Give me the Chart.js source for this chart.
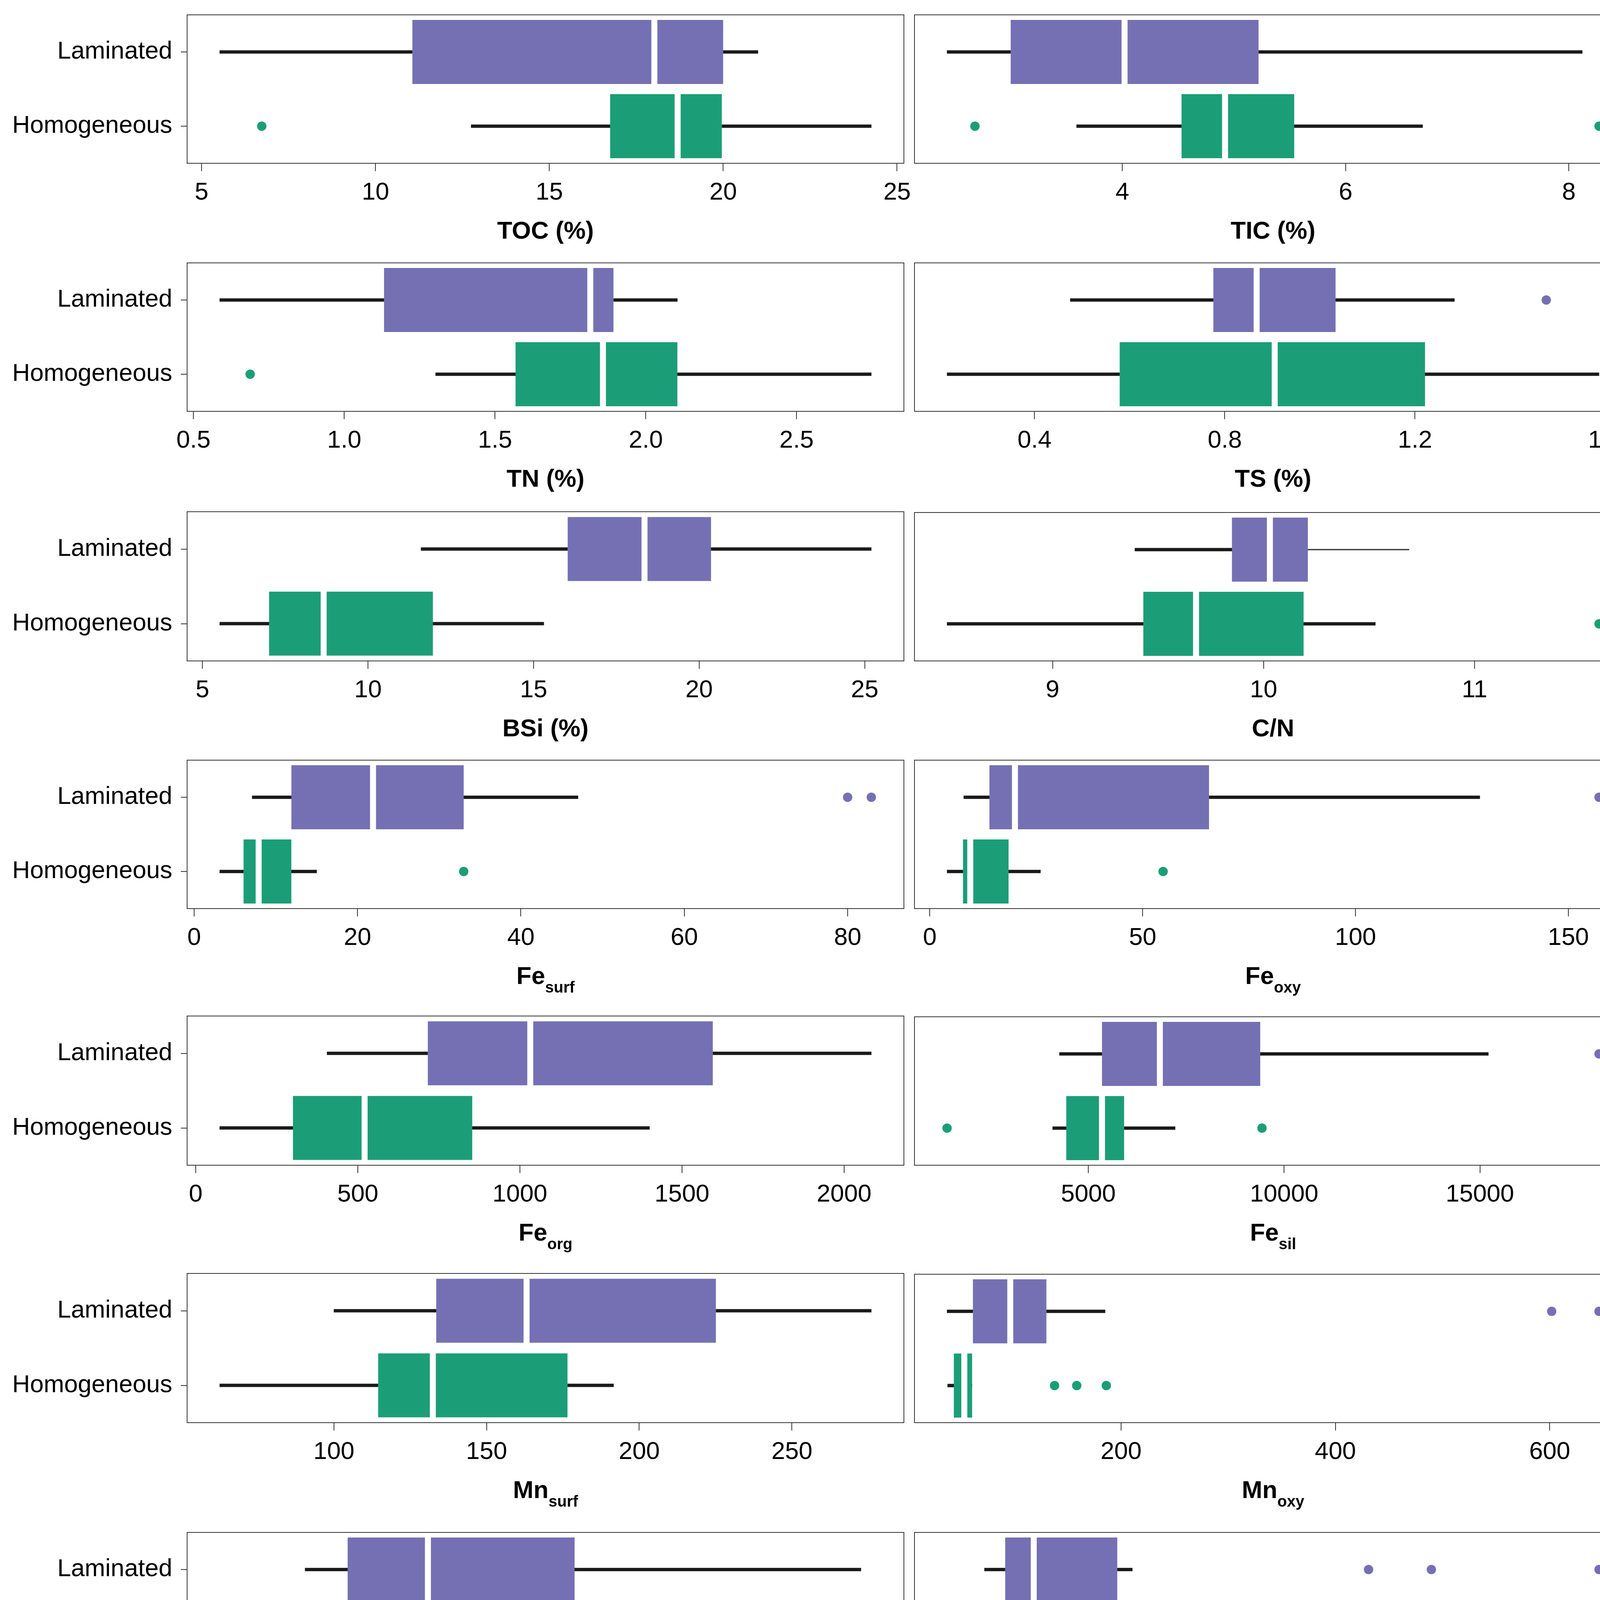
<!DOCTYPE html>
<html>
<head>
<meta charset="utf-8">
<script src="https://cdn.jsdelivr.net/npm/chart.js@4.4.1/dist/chart.umd.min.js"></script>
<style>
body{margin:0;background:#fff;}
#page{position:relative;width:4204px;height:6802px;background:#fff;overflow:hidden;}
#page canvas{position:absolute;}
</style>
</head>
<body>
<div id="page"></div>
<script>
// Data: boxes are [lower whisker, Q1, median, Q3, upper whisker]
const groups=['Laminated','Homogeneous'];

const tocLam=[5.52,11.06,18.02,20.0,21.0], tocHom=[12.75,16.75,18.69,19.96,24.26];
const tocOutLam=[], tocOutHom=[6.73];
const tocTicks=['5','10','15','20','25'];

const ticLam=[2.43,3.0,4.02,5.22,8.12], ticHom=[3.59,4.53,4.92,5.54,6.69];
const ticOutLam=[], ticOutHom=[2.68,8.27];
const ticTicks=['4','6','8'];

const tnLam=[0.587,1.132,1.816,1.893,2.105], tnHom=[1.303,1.568,1.858,2.105,2.748];
const tnOutLam=[], tnOutHom=[0.688];
const tnTicks=['0.5','1.0','1.5','2.0','2.5'];

const tsLam=[0.475,0.776,0.867,1.033,1.283], tsHom=[0.216,0.579,0.905,1.221,1.587];
const tsOutLam=[1.476], tsOutHom=[];
const tsTicks=['0.4','0.8','1.2','1.6'];

const bsiLam=[11.6,16.03,18.35,20.36,25.2], bsiHom=[5.52,7.01,8.66,11.96,15.31];
const bsiOutLam=[], bsiOutHom=[];
const bsiTicks=['5','10','15','20','25'];

const cnLam=[9.39,9.85,10.03,10.21,10.69], cnHom=[8.5,9.43,9.68,10.19,10.53];
const cnOutLam=[], cnOutHom=[11.59];
const cnTicks=['9','10','11'];

const feSurfLam=[7.1,11.9,21.9,33.0,47.0], feSurfHom=[3.13,6.05,7.9,11.9,15.0];
const feSurfOutLam=[80.0,82.9], feSurfOutHom=[33.0];
const feSurfTicks=['0','20','40','60','80'];

const feOxyLam=[7.96,14.0,20.0,65.6,129.2], feOxyHom=[4.05,7.8,9.5,18.5,26.0];
const feOxyOutLam=[157.2], feOxyOutHom=[54.8];
const feOxyTicks=['0','50','100','150'];

const feOrgLam=[405,716,1032,1595,2084], feOrgHom=[74,300,521,853,1400];
const feOrgOutLam=[], feOrgOutHom=[];
const feOrgTicks=['0','500','1000','1500','2000'];

const feSilLam=[4261,5348,6826,9391,15217], feSilHom=[4087,4435,5348,5913,7217];
const feSilOutLam=[18043], feSilOutHom=[1391,9435];
const feSilTicks=['5000','10000','15000'];

const mnSurfLam=[100,133.5,163.1,225.1,276], mnSurfHom=[62.6,114.5,132.4,176.5,191.6];
const mnSurfOutLam=[], mnSurfOutHom=[];
const mnSurfTicks=['100','150','200','250'];

const mnOxyLam=[37.6,61.7,96.6,130.3,185.1], mnOxyHom=[38.1,43.9,53.7,61,61];
const mnOxyOutLam=[601.8,646], mnOxyOutHom=[137.9,158.6,186.2];
const mnOxyTicks=['200','400','600'];

const mnOrgLam=[84.4,102.1,135.5,196.5,315.6], mnOrgHom=[48.9,95.7,109.9,129.8,164.5];
const mnOrgOutLam=[], mnOrgOutHom=[319.9];
const mnOrgTicks=['100','200','300'];

const mnSilLam=[29,33,38.5,54.6,57.5], mnSilHom=[21.8,30,35.9,45.1,54.6];
const mnSilOutLam=[103,115.1,147.4], mnSilOutHom=[112.3];
const mnSilTicks=['50','100','150'];

const feTotLam=[4818,7182,7773,10409,14318], feTotHom=[4636,5000,5909,6682,8636];
const feTotOutLam=[16318,18909], feTotOutHom=[1545,9818];
const feTotTicks=['5000','10000','15000'];

const mnTotLam=[265.4,379.6,419.8,632.7,737.7], mnTotHom=[200.6,287,327,413.6,555.6];
const mnTotOutLam=[1120,1383], mnTotOutHom=[743.8];
const mnTotTicks=['500','1000'];

const feTiLam=[4.354,4.689,4.82,5.374,6.049], feTiHom=[4.189,4.34,4.578,4.917,5.495];
const feTiOutLam=[], feTiOutHom=[];
const feTiTicks=['4.5','5.0','5.5','6.0'];

const mnTiLam=[1.007,1.368,1.59,2.201,3.271], mnTiHom=[0.667,1.104,1.396,1.479,2.042];
const mnTiOutLam=[], mnTiOutHom=[2.451,3.326];
const mnTiTicks=['1.0','1.5','2.0','2.5','3.0'];

const feMnXLam=[2.776,3.105,3.211,3.382,3.586], feMnXHom=[2.868,3.033,3.184,3.283,3.658];
const feMnXOutLam=[3.934], feMnXOutHom=[1.658,4.171];
const feMnXTicks=['2.0','2.5','3.0','3.5','4.0'];

const feMnSeqLam=[2.48,2.744,2.888,3.064,3.336], feMnSeqHom=[2.512,2.72,2.848,2.968,3.32];
const feMnSeqOutLam=[2.224,3.68], feMnSeqOutHom=[0.704,3.768];
const feMnSeqTicks=['1','2','3'];

// Panel table (left to right, top to bottom)
const panels=[
  {title:'TOC (%)',lam:tocLam,hom:tocHom,outLam:tocOutLam,outHom:tocOutHom,ticks:tocTicks},
  {title:'TIC (%)',lam:ticLam,hom:ticHom,outLam:ticOutLam,outHom:ticOutHom,ticks:ticTicks},
  {title:'TN (%)',lam:tnLam,hom:tnHom,outLam:tnOutLam,outHom:tnOutHom,ticks:tnTicks},
  {title:'TS (%)',lam:tsLam,hom:tsHom,outLam:tsOutLam,outHom:tsOutHom,ticks:tsTicks},
  {title:'BSi (%)',lam:bsiLam,hom:bsiHom,outLam:bsiOutLam,outHom:bsiOutHom,ticks:bsiTicks},
  {title:'C/N',lam:cnLam,hom:cnHom,outLam:cnOutLam,outHom:cnOutHom,ticks:cnTicks,thin:[true,false]},
  {title:'Fe',sub:'surf',lam:feSurfLam,hom:feSurfHom,outLam:feSurfOutLam,outHom:feSurfOutHom,ticks:feSurfTicks},
  {title:'Fe',sub:'oxy',lam:feOxyLam,hom:feOxyHom,outLam:feOxyOutLam,outHom:feOxyOutHom,ticks:feOxyTicks},
  {title:'Fe',sub:'org',lam:feOrgLam,hom:feOrgHom,outLam:feOrgOutLam,outHom:feOrgOutHom,ticks:feOrgTicks},
  {title:'Fe',sub:'sil',lam:feSilLam,hom:feSilHom,outLam:feSilOutLam,outHom:feSilOutHom,ticks:feSilTicks},
  {title:'Mn',sub:'surf',lam:mnSurfLam,hom:mnSurfHom,outLam:mnSurfOutLam,outHom:mnSurfOutHom,ticks:mnSurfTicks},
  {title:'Mn',sub:'oxy',lam:mnOxyLam,hom:mnOxyHom,outLam:mnOxyOutLam,outHom:mnOxyOutHom,ticks:mnOxyTicks},
  {title:'Mn',sub:'org',lam:mnOrgLam,hom:mnOrgHom,outLam:mnOrgOutLam,outHom:mnOrgOutHom,ticks:mnOrgTicks},
  {title:'Mn',sub:'sil',lam:mnSilLam,hom:mnSilHom,outLam:mnSilOutLam,outHom:mnSilOutHom,ticks:mnSilTicks},
  {title:'Fe',sub:'tot',lam:feTotLam,hom:feTotHom,outLam:feTotOutLam,outHom:feTotOutHom,ticks:feTotTicks},
  {title:'Mn',sub:'tot',lam:mnTotLam,hom:mnTotHom,outLam:mnTotOutLam,outHom:mnTotOutHom,ticks:mnTotTicks},
  {title:'ln(Fe/Ti) µXRF',lam:feTiLam,hom:feTiHom,outLam:feTiOutLam,outHom:feTiOutHom,ticks:feTiTicks},
  {title:'ln(Mn/Ti) µXRF',lam:mnTiLam,hom:mnTiHom,outLam:mnTiOutLam,outHom:mnTiOutHom,ticks:mnTiTicks},
  {title:'ln(Fe/Mn) µXRF',lam:feMnXLam,hom:feMnXHom,outLam:feMnXOutLam,outHom:feMnXOutHom,ticks:feMnXTicks},
  {title:'ln(Fe/Mn) sequential extraction',lam:feMnSeqLam,hom:feMnSeqHom,outLam:feMnSeqOutLam,outHom:feMnSeqOutHom,ticks:feMnSeqTicks}
];

// Layout / style
const FONT="'Liberation Sans', Arial, Helvetica, sans-serif";
const PURPLE='#7570B3', GREEN='#1B9E77', INK='#1a1a1a', LINE='#333333';
const ROW_TOP=[36,671,1310,1944,2601,3260,3921,4570,5228,5886];
const page=document.getElementById('page');
Chart.defaults.font.family=FONT;
Chart.defaults.color='#000';

const framePlugin={id:'frame',afterDatasetsDraw(chart){
  const a=chart.chartArea,c=chart.ctx;
  c.save();c.strokeStyle=LINE;c.lineWidth=2;
  c.strokeRect(a.left,a.top,a.right-a.left,a.bottom-a.top);
  c.restore();
}};

// axis title with optional subscript
const titlePlugin={id:'axisTitle',afterDraw(chart,args,opts){
  const a=chart.chartArea,c=chart.ctx;
  const cx=(a.left+a.right)/2, y=a.bottom+193;
  c.save();c.fillStyle='#000';c.textAlign='left';c.textBaseline='alphabetic';
  c.font='bold 63px '+FONT;const w1=c.measureText(opts.text).width;
  c.font='bold 40px '+FONT;const w2=opts.sub?c.measureText(opts.sub).width:0;
  const x=cx-(w1+w2)/2;
  c.font='bold 63px '+FONT;c.fillText(opts.text,x,y);
  if(opts.sub){c.font='bold 40px '+FONT;c.fillText(opts.sub,x+w1,y+22);}
  c.restore();
}};

function makePanel(p,i){
  const col=i%2,row=Math.floor(i/2);
  const cv=document.createElement('canvas');
  const w=col?1883:2374,h=632;
  cv.width=w;cv.height=h;
  cv.style.left=(col?2321:0)+'px';cv.style.top=(ROW_TOP[row]-10)+'px';
  cv.style.width=w+'px';cv.style.height=h+'px';
  page.appendChild(cv);

  const rows=[p.lam,p.hom];
  const thin=p.thin||[false,false];
  const all=p.lam.concat(p.hom,p.outLam,p.outHom);
  const lo=Math.min(...all),hi=Math.max(...all),pad=(hi-lo)*0.05;

  new Chart(cv,{
    type:'bar',
    data:{labels:groups,datasets:[
      {type:'scatter',data:p.outLam.map(v=>({x:v,y:groups[0]})),backgroundColor:PURPLE,pointBackgroundColor:PURPLE,pointRadius:12,pointBorderWidth:0,order:0},
      {type:'scatter',data:p.outHom.map(v=>({x:v,y:groups[1]})),backgroundColor:GREEN,pointBackgroundColor:GREEN,pointRadius:12,pointBorderWidth:0,order:0},
      // box halves, white edge at the median
      {data:rows.map(r=>[r[1],r[2]]),backgroundColor:[PURPLE,GREEN],borderColor:'#fff',borderWidth:{left:0,right:8,top:0,bottom:0},borderSkipped:false,barThickness:164,grouped:false,order:1},
      {data:rows.map(r=>[r[2],r[3]]),backgroundColor:[PURPLE,GREEN],borderColor:'#fff',borderWidth:{left:8,right:0,top:0,bottom:0},borderSkipped:false,barThickness:164,grouped:false,order:1},
      // whiskers
      {data:rows.map(r=>[r[0],r[1]]),backgroundColor:INK,barThickness:8,grouped:false,order:2},
      {data:rows.map((r,k)=>thin[k]?null:[r[3],r[4]]),backgroundColor:INK,barThickness:8,grouped:false,order:2},
      {data:rows.map((r,k)=>thin[k]?[r[3],r[4]]:null),backgroundColor:'#444',barThickness:3,grouped:false,order:2}
    ]},
    options:{
      responsive:false,animation:false,devicePixelRatio:1,indexAxis:'y',events:[],
      layout:{padding:col?{top:10,right:27,bottom:140,left:20}:{top:10,right:60,bottom:140,left:0}},
      plugins:{legend:{display:false},tooltip:{enabled:false},axisTitle:{text:p.title,sub:p.sub}},
      scales:{
        x:{type:'linear',min:lo-pad,max:hi+pad,
          afterBuildTicks:s=>{s.ticks=p.ticks.map(t=>({value:Number(t)}));},
          afterFit:s=>{s.height=100;s.paddingLeft=0;s.paddingRight=0;},
          grid:{drawOnChartArea:false,drawTicks:true,tickLength:20,color:LINE,lineWidth:2},
          border:{display:false},
          ticks:{autoSkip:false,maxRotation:0,minRotation:0,padding:18,color:'#000',font:{size:63},callback:(v,k)=>p.ticks[k]}},
        y:{type:'category',offset:true,display:!col,
          afterFit:col?undefined:(s=>{s.width=479;s.paddingTop=0;s.paddingBottom=0;}),
          grid:{offset:false,drawOnChartArea:false,tickLength:16,color:LINE,lineWidth:2},
          border:{display:false},
          ticks:{padding:22,color:'#000',font:{size:63}}}
      }
    },
    plugins:[framePlugin,titlePlugin]
  });
}
panels.forEach(makePanel);

// Legend
function icon(color,round){
  const c=document.createElement('canvas');c.width=c.height=47;
  const g=c.getContext('2d');g.fillStyle=color;
  if(round){g.beginPath();g.arc(23.5,23.5,23.5,0,Math.PI*2);g.fill();}else g.fillRect(0,0,47,47);
  return c;
}
const lgCanvas=document.createElement('canvas');
lgCanvas.width=3698;lgCanvas.height=262;
lgCanvas.style.left='479px';lgCanvas.style.top='6506px';
lgCanvas.style.width='3698px';lgCanvas.style.height='262px';
page.appendChild(lgCanvas);
const boxPlugin={id:'lgBox',beforeDraw(chart){
  const c=chart.ctx;c.save();c.strokeStyle=LINE;c.lineWidth=2;
  c.strokeRect(1,1,chart.width-2,chart.height-2);c.restore();
}};
const legendIcons=[icon(GREEN,false),icon(PURPLE,true)];
new Chart(lgCanvas,{
  type:'line',
  data:{labels:[],datasets:[{label:'Homogeneous',data:[]},{label:'Laminated',data:[]}]},
  options:{
    responsive:false,animation:false,devicePixelRatio:1,events:[],
    scales:{x:{display:false},y:{display:false}},
    plugins:{tooltip:{enabled:false},
      legend:{display:true,position:'top',align:'center',
        title:{display:true,text:'Sediment type',color:'#000',font:{size:63,weight:'bold'},padding:{top:42,bottom:-98}},
        labels:{usePointStyle:true,pointStyleWidth:130,boxHeight:63,padding:120,color:'#000',font:{size:63},
          generateLabels:()=>[
            {text:'Homogeneous',pointStyle:legendIcons[0],fillStyle:GREEN,strokeStyle:GREEN,lineWidth:0,hidden:false,datasetIndex:0},
            {text:'Laminated',pointStyle:legendIcons[1],fillStyle:PURPLE,strokeStyle:PURPLE,lineWidth:0,hidden:false,datasetIndex:1}
          ]}}}
  },
  plugins:[boxPlugin]
});
</script>
</body>
</html>
